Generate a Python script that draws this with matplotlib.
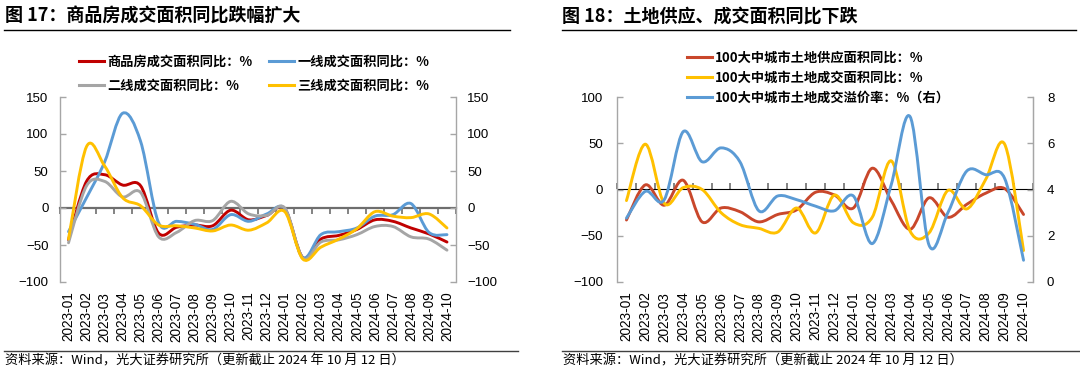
import numpy as np
import matplotlib
matplotlib.use("Agg")
import matplotlib.pyplot as plt
from matplotlib.path import Path
from matplotlib.patches import PathPatch
from matplotlib.lines import Line2D

plt.rcParams['font.family'] = ['Noto Sans CJK SC', 'DejaVu Sans']

# ---------------- data ----------------
months = ['2023-01', '2023-02', '2023-03', '2023-04', '2023-05', '2023-06',
          '2023-07', '2023-08', '2023-09', '2023-10', '2023-11', '2023-12',
          '2024-01', '2024-02', '2024-03', '2024-04', '2024-05', '2024-06',
          '2024-07', '2024-08', '2024-09', '2024-10']

# 图17: 商品房成交面积同比 (%)
sales_all = [-43, 36, 45, 31, 30, -34, -26, -23, -24, -3, -16, -10, -1, -67,
             -42, -37, -29, -16, -18, -27, -35, -46]
sales_tier1 = [-32, 14, 62, 128, 90, -20, -18, -22, -29, -9, -18, -8, -1, -67,
               -36, -32, -27, -11, -9, 6, -33, -36]
sales_tier2 = [-47, 30, 36, 15, 21, -39, -33, -17, -17, 9, -8, -10, 0, -68,
               -46, -43, -36, -25, -25, -39, -42, -57]
sales_tier3 = [-42, 83, 57, 14, 3, -23, -24, -27, -31, -23, -30, -20, -5, -69,
               -53, -42, -28, -5, -11, -13, -8, -27]

# 图18: 100大中城市土地
land_supply = [-33, 5, -17, 10, -35, -20, -24, -35, -27, -22, -3, -6, -20, 23,
               -12, -43, -9, -30, -16, -4, 1, -27]
land_deal = [-12, 49, -15, 2, 0, -25, -38, -42, -46, -20, -47, -6, -36, -30,
             31, -45, -47, -1, -21, 11, 49, -66]
land_premium = [2.76, 3.92, 3.56, 6.5, 5.2, 5.8, 5.2, 3.08, 3.72, 3.56, 3.28,
                3.08, 3.72, 1.66, 4.2, 7.15, 1.6, 3.0, 4.8, 4.64, 4.48, 0.94]

labels17 = ['商品房成交面积同比：%', '一线成交面积同比：%',
            '二线成交面积同比：%', '三线成交面积同比：%']
labels18 = ['100大中城市土地供应面积同比：%', '100大中城市土地成交面积同比：%',
            '100大中城市土地成交溢价率：%（右）']

title17 = '图 17：商品房成交面积同比跌幅扩大'
title18 = '图 18：土地供应、成交面积同比下跌'
source = '资料来源：Wind，光大证券研究所（更新截止 2024 年 10 月 12 日）'

# ---------------- helpers ----------------
W, H = 1080, 372
def fx(px):
    return px / W
def fy(py):
    return 1 - py / H

def smooth_path(ys):
    xs = np.arange(len(ys), dtype=float)
    pts = np.column_stack([xs, np.asarray(ys, dtype=float)])
    n = len(pts)
    verts = [pts[0]]
    codes = [Path.MOVETO]
    for i in range(n - 1):
        p0 = pts[i - 1] if i > 0 else pts[i]
        p1, p2 = pts[i], pts[i + 1]
        p3 = pts[i + 2] if i + 2 < n else pts[i + 1]
        c1 = p1 + (p2 - p0) / 6.0
        c2 = p2 - (p3 - p1) / 6.0
        verts += [c1, c2, p2]
        codes += [Path.CURVE4] * 3
    return Path(verts, codes)

def draw_smooth(ax, ys, color, lw=2.1, z=3):
    ax.add_patch(PathPatch(smooth_path(ys), facecolor='none', edgecolor=color,
                           lw=lw, zorder=z, capstyle='round', joinstyle='round'))

AX_GRAY = '#A6A6A6'
ZERO_GRAY = '#6E6E6E'
NUM_FONT = ['Liberation Sans', 'DejaVu Sans']

def style_axes(ax, ylim, yticks, zero_frac, lpad):
    n = len(months)
    ax.set_xlim(-0.5, n - 0.5)
    ax.set_ylim(*ylim)
    ax.set_yticks(yticks)
    ax.set_xticks(np.arange(n))
    ax.set_xticklabels(months, rotation=90, fontsize=9.8, family=NUM_FONT)
    ax.tick_params(axis='x', length=0, pad=7)
    for s in ['top', 'bottom']:
        ax.spines[s].set_visible(False)
    for s in ['left', 'right']:
        ax.spines[s].set_color(AX_GRAY)
        ax.spines[s].set_linewidth(1.0)
    ax.tick_params(axis='y', direction='in', length=4, color=AX_GRAY, width=1,
                   labelsize=9.5, pad=lpad)
    # zero line with category boundary ticks
    sec = ax.secondary_xaxis(zero_frac)
    sec.set_xticks(np.arange(-0.5, n, 1.0))
    sec.set_xticklabels([])
    sec.tick_params(axis='x', direction='out', length=4, width=1.2, color=ZERO_GRAY)
    sec.spines['bottom'].set_color(ZERO_GRAY)
    sec.spines['bottom'].set_linewidth(1.6)
    return sec

def num_font(ax):
    for t in ax.get_yticklabels():
        t.set_family(NUM_FONT)

# ---------------- figure ----------------
fig = plt.figure(figsize=(W / 100, H / 100), dpi=100)

# ---- left panel ----
axL = fig.add_axes([fx(59.5), fy(282), fx(456 - 59.5), (282 - 97) / H])
c_red, c_blue, c_gray, c_yel = '#C00000', '#5B9BD5', '#A5A5A5', '#FFC000'
style_axes(axL, (-100, 150), [-100, -50, 0, 50, 100, 150], 0.4, 8)
axL.tick_params(axis='y', right=True, labelright=True)
num_font(axL)
draw_smooth(axL, sales_all, c_red, z=3)
draw_smooth(axL, sales_tier1, c_blue, z=4)
draw_smooth(axL, sales_tier2, c_gray, z=5)
draw_smooth(axL, sales_tier3, c_yel, z=6)

hL = [Line2D([], [], color=c, lw=2.2) for c in [c_red, c_gray, c_blue, c_yel]]
lL = [labels17[0], labels17[2], labels17[1], labels17[3]]
fig.legend(hL, lL, loc='upper left', bbox_to_anchor=(fx(79), fy(55)), ncol=2,
           frameon=False, prop={'size': 9.5, 'weight': 'bold'},
           handlelength=1.9, handletextpad=0.25, columnspacing=1.25,
           labelspacing=0.75, borderaxespad=0, borderpad=0)

# ---- right panel ----
axR = fig.add_axes([fx(617), fy(282), fx(1033 - 617), (282 - 97) / H])
c_red2 = '#C9472B'
style_axes(axR, (-100, 100), [-100, -50, 0, 50, 100], 0.5, 10)
num_font(axR)
axR2 = axR.twinx()
axR2.set_ylim(0, 8)
axR2.set_yticks([0, 2, 4, 6, 8])
axR2.tick_params(axis='y', direction='in', length=4, color=AX_GRAY, width=1,
                 labelsize=9.5, pad=10)
num_font(axR2)
for s in ['top', 'bottom', 'left']:
    axR2.spines[s].set_visible(False)
axR2.spines['right'].set_color(AX_GRAY)
draw_smooth(axR, land_supply, c_red2, z=3)
draw_smooth(axR, land_deal, c_yel, z=4)
draw_smooth(axR2, land_premium, c_blue, z=3)

hR = [Line2D([], [], color=c, lw=2.2) for c in [c_red2, c_yel, c_blue]]
fig.legend(hR, labels18, loc='upper left', bbox_to_anchor=(fx(687), fy(51)),
           ncol=1, frameon=False, prop={'size': 9.5, 'weight': 'bold'},
           handlelength=1.9, handletextpad=0.25, labelspacing=0.45,
           borderaxespad=0, borderpad=0)

# ---- titles, rules, footers ----
fig.text(fx(5), fy(16), title17, fontsize=13, fontweight='bold', va='center', ha='left')
fig.text(fx(562), fy(16), title18, fontsize=13, fontweight='bold', va='center', ha='left')
fig.add_artist(Line2D([fx(4), fx(510)], [fy(29.5), fy(29.5)], color='black', lw=1))
fig.add_artist(Line2D([fx(562), fx(1076)], [fy(29.5), fy(29.5)], color='black', lw=1))
fig.add_artist(Line2D([fx(4), fx(518)], [fy(351), fy(351)], color='#404040', lw=1))
fig.add_artist(Line2D([fx(562), fx(1080)], [fy(351), fy(351)], color='#404040', lw=1))
fig.text(fx(5), fy(361), source, fontsize=9.5, va='center', ha='left')
fig.text(fx(563), fy(361), source, fontsize=9.5, va='center', ha='left')

fig.savefig('out.png', dpi=100)
